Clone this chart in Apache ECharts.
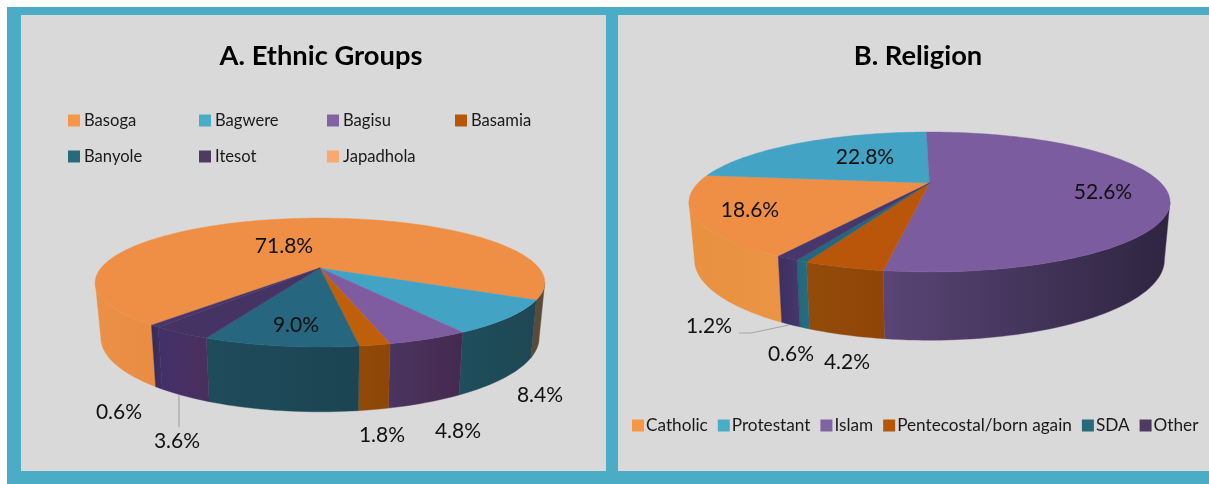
<!DOCTYPE html>
<html><head><meta charset="utf-8">
<style>html,body{margin:0;padding:0;background:#fff}#c{width:1209px;height:484px}</style>
<script src="https://cdn.jsdelivr.net/npm/echarts@6/dist/echarts.min.js"></script>
</head><body><div id="c"></div>
<script>
// ---- data ----
const ethnicNames = ['Basoga','Bagwere','Bagisu','Basamia','Banyole','Itesot','Japadhola'];
const ethnicValues = [71.8,8.4,4.8,1.8,9.0,3.6,0.6];
const religionNames = ['Catholic','Protestant','Islam','Pentecostal/born again','SDA','Other'];
const religionValues = [18.6,22.8,52.6,4.2,0.6,1.2];
// ---- styles ----
const legendColorsA = ['#F79646','#4BACC6','#8064A2','#B65708','#276A7C','#4D3B62','#F9A96B'];
const legendColorsB = ['#F79646','#4BACC6','#8064A2','#B65708','#276A7C','#4D3B62'];
const topA = ['#EE8F45','#43A3C4','#7F5BA0','#C05F0A','#26667E','#443363','#4A3568'];
const topB = ['#EE8F45','#43A3C4','#7B5C9E','#B9560A','#26667E','#47376B'];
const wallA = [['#EB9147','#E88D42'],['#1F4E5C','#1E4753'],['#4A3560','#45294F'],['#8F4A08','#8F4507'],['#1F4C5B','#1C4452'],['#43306A','#4A2F5C'],['#3A2A50','#40306A']];
const wallB = [['#E8913F','#EA9445'],['#2B7F97','#2B7F97'],['#5A4576','#2E2540'],['#934B0A','#8F4507'],['#20687A','#2A6B7F'],['#3D2F63','#47376B']];
// ---- layout ----
const pieA = {cx:320,cy:268,a:219,b:61.2,k:0.225,start:-140.5,cy2:321,sx:0.975,sy:1.15,rightWall:'#5A4A3A'};
const pieB = {cx:929.5,cy:183,a:231.5,b:64.8,k:0.271,start:-150,cy2:238,sx:0.977,sy:1.15,rightWall:null};
const labelPosA = [[284,246],[540,395],[458,431],[382,435],[296,325],[177,441],[119,412]];
const labelPosB = [[750,210],[865,157],[1103,192],[847,362],[791,354],[709,326]];
const FONT = 'Lato, "Open Sans", sans-serif';

function pt(p, deg, low){
  const t = deg*Math.PI/180, u = Math.cos(t), v = Math.sin(t), d = 1-p.k*v;
  const sx = low?p.sx:1, sy = low?p.sy:1, cy = low?p.cy2:p.cy;
  return [p.cx + sx*p.a*u/d, cy + sy*p.b*v/d];
}
function arc(p, t0, t1, low){
  const n = Math.max(2, Math.ceil(Math.abs(t1-t0)/1.5)), out=[];
  for(let i=0;i<=n;i++) out.push(pt(p, t0+(t1-t0)*i/n, low));
  return out;
}
function sliceSeries(p, names, values, tops, walls, legendColors){
  const total = values.reduce((s,x)=>s+x,0);
  let acc = p.start - 90;
  const lo = Math.asin(p.k)*180/Math.PI, hi = 180-lo;
  return names.map((name,i)=>{
    const t0 = acc, t1 = acc + values[i]/total*360; acc = t1;
    return {
      type:'custom', coordinateSystem:'none', name, z:2,
      itemStyle:{color:legendColors[i]}, silent:true,
      data:[{name, value:values[i]}],
      renderItem(){
        const children=[];
        for(const off of [-360,0,360]){
          const a = Math.max(t0, lo+off), b = Math.min(t1, hi+off);
          if(b<=a) continue;
          const poly = arc(p,a,b,false).concat(arc(p,b,a,true));
          const isRight = p.rightWall && (a-off)<90 && i===0;
          const w = walls[i];
          const fill = isRight ? p.rightWall : new echarts.graphic.LinearGradient(0,0,1,0,[{offset:0,color:w[0]},{offset:1,color:w[1]}]);
          children.push({type:'polygon',shape:{points:poly},style:{fill,stroke:isRight?p.rightWall:w[0],lineWidth:0.4}});
        }
        const top = [[p.cx,p.cy]].concat(arc(p,t0,t1,false));
        children.push({type:'polygon',z2:5,shape:{points:top},style:{fill:tops[i],stroke:tops[i],lineWidth:0.4}});
        return {type:'group',children};
      }
    };
  });
}
function labelSeries(values, pos){
  return {
    type:'custom', coordinateSystem:'none', z:6, silent:true,
    data:values.map(v=>({value:v})),
    renderItem(params){
      const i = params.dataIndex;
      return {type:'text',style:{text:values[i].toFixed(1)+'%',x:pos[i][0],y:pos[i][1],align:'center',verticalAlign:'middle',font:'21px '+FONT,fill:'#111'}};
    }
  };
}
const lg = (data,left,top,extra)=>Object.assign({data,left,top,orient:'vertical',icon:'rect',itemWidth:12,itemHeight:12,itemGap:19,padding:0,
  textStyle:{fontFamily:'Lato',fontSize:16.6,color:'#1a1a1a',padding:[0,0,0,-1]},selectedMode:false},extra||{});
const leader = pts=>({type:'polyline',z:5,silent:true,shape:{points:pts},style:{stroke:'#A6A6A6',lineWidth:1.2,fill:'none'}});

const chart = echarts.init(document.getElementById('c'),null,{renderer:'canvas'});
chart.setOption({
  animation:false,
  backgroundColor:'#fff',
  title:[
    {text:'A. Ethnic Groups',left:316,top:38,textAlign:'center',textStyle:{fontFamily:'Lato',fontWeight:'bold',fontSize:27.3,color:'#000'}},
    {text:'B. Religion',left:913,top:38,textAlign:'center',textStyle:{fontFamily:'Lato',fontWeight:'bold',fontSize:27.3,color:'#000'}}
  ],
  legend:[
    lg(['Basoga','Banyole'],68,112),
    lg(['Bagwere','Itesot'],199,112),
    lg(['Bagisu','Japadhola'],327,112),
    lg(['Basamia'],455,112),
    lg(religionNames.map(n=>({name:n})),632,417,{orient:'horizontal',itemGap:10,
      textStyle:{fontFamily:'Lato',fontSize:17.2,color:'#1a1a1a',padding:[0,0,0,-3]}})
  ],
  graphic:[
    {type:'rect',z:-3,silent:true,shape:{x:7,y:7,width:1202,height:477},style:{fill:'#4BACC6'}},
    {type:'rect',z:-2,silent:true,shape:{x:21,y:15,width:585,height:456},style:{fill:'#D9D9D9'}},
    {type:'rect',z:-2,silent:true,shape:{x:618,y:15,width:591,height:456},style:{fill:'#D9D9D9'}},
    leader([[179,395],[179,427]]),
    leader([[739,333],[751,333],[789,325]])
  ],
  series:[
    ...sliceSeries(pieA,ethnicNames,ethnicValues,topA,wallA,legendColorsA),
    ...sliceSeries(pieB,religionNames,religionValues,topB,wallB,legendColorsB),
    labelSeries(ethnicValues,labelPosA),
    labelSeries(religionValues,labelPosB)
  ]
});
</script></body></html>
